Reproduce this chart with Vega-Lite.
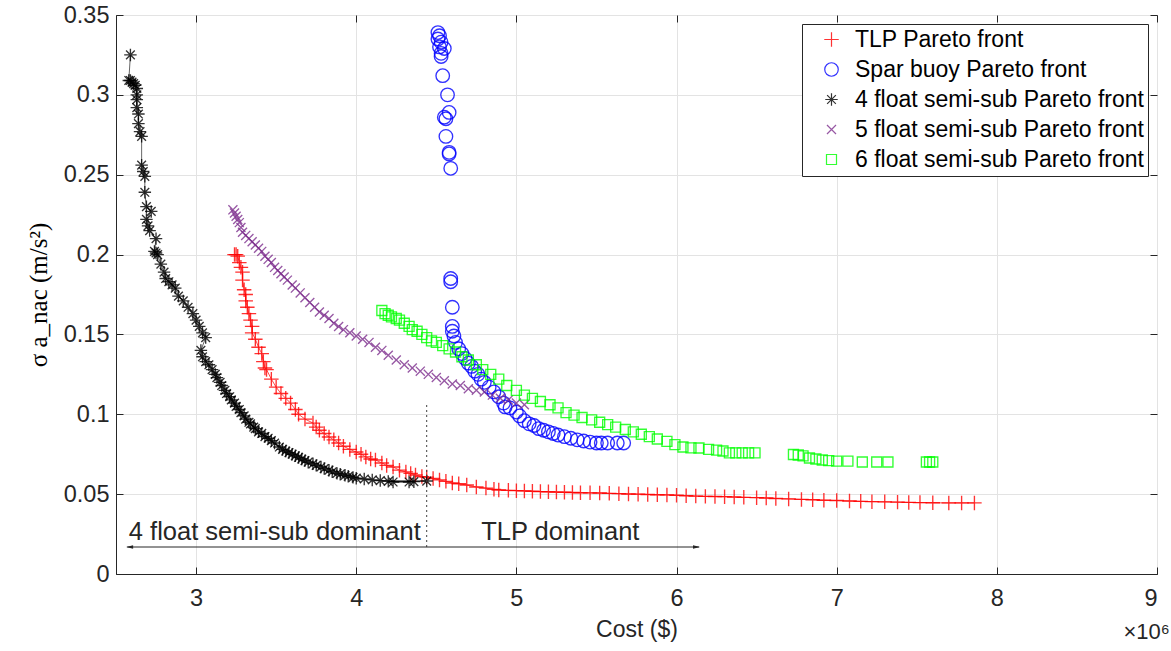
{
  "$schema": "https://vega.github.io/schema/vega-lite/v6.json",
  "width": 1041,
  "height": 559,
  "autosize": {"type": "none"},
  "padding": {"left": 116, "top": 15, "right": 14, "bottom": 77},
  "background": "white",
  "config": {
    "view": {"stroke": "#262626", "strokeWidth": 1},
    "font": "Liberation Sans",
    "legend": {
      "title": null, "orient": "top-right", "offset": 9, "strokeColor": "#262626", "fillColor": "white",
      "padding": 4, "labelFontSize": 23, "labelFont": "Liberation Sans", "labelColor": "black", "labelLimit": 500,
      "symbolSize": 80, "rowPadding": 6, "symbolStrokeWidth": 1.2, "symbolOffset": 14, "labelOffset": 12, "cornerRadius": 0
    }
  },
  "datasets": {
    "pts": [
      {"series": "TLP Pareto front", "cost": 3.24, "sigma": 0.200},
      {"series": "TLP Pareto front", "cost": 3.25, "sigma": 0.200},
      {"series": "TLP Pareto front", "cost": 3.26, "sigma": 0.199},
      {"series": "TLP Pareto front", "cost": 3.27, "sigma": 0.195},
      {"series": "TLP Pareto front", "cost": 3.28, "sigma": 0.192},
      {"series": "TLP Pareto front", "cost": 3.29, "sigma": 0.189},
      {"series": "TLP Pareto front", "cost": 3.29, "sigma": 0.184},
      {"series": "TLP Pareto front", "cost": 3.30, "sigma": 0.178},
      {"series": "TLP Pareto front", "cost": 3.31, "sigma": 0.175},
      {"series": "TLP Pareto front", "cost": 3.31, "sigma": 0.171},
      {"series": "TLP Pareto front", "cost": 3.32, "sigma": 0.167},
      {"series": "TLP Pareto front", "cost": 3.33, "sigma": 0.163},
      {"series": "TLP Pareto front", "cost": 3.34, "sigma": 0.159},
      {"series": "TLP Pareto front", "cost": 3.35, "sigma": 0.155},
      {"series": "TLP Pareto front", "cost": 3.35, "sigma": 0.151},
      {"series": "TLP Pareto front", "cost": 3.37, "sigma": 0.147},
      {"series": "TLP Pareto front", "cost": 3.39, "sigma": 0.142},
      {"series": "TLP Pareto front", "cost": 3.41, "sigma": 0.138},
      {"series": "TLP Pareto front", "cost": 3.42, "sigma": 0.133},
      {"series": "TLP Pareto front", "cost": 3.43, "sigma": 0.129},
      {"series": "TLP Pareto front", "cost": 3.44, "sigma": 0.128},
      {"series": "TLP Pareto front", "cost": 3.47, "sigma": 0.122},
      {"series": "TLP Pareto front", "cost": 3.50, "sigma": 0.117},
      {"series": "TLP Pareto front", "cost": 3.53, "sigma": 0.113},
      {"series": "TLP Pareto front", "cost": 3.56, "sigma": 0.110},
      {"series": "TLP Pareto front", "cost": 3.59, "sigma": 0.107},
      {"series": "TLP Pareto front", "cost": 3.62, "sigma": 0.103},
      {"series": "TLP Pareto front", "cost": 3.64, "sigma": 0.100},
      {"series": "TLP Pareto front", "cost": 3.68, "sigma": 0.097},
      {"series": "TLP Pareto front", "cost": 3.73, "sigma": 0.0945},
      {"series": "TLP Pareto front", "cost": 3.75, "sigma": 0.092},
      {"series": "TLP Pareto front", "cost": 3.77, "sigma": 0.090},
      {"series": "TLP Pareto front", "cost": 3.80, "sigma": 0.088},
      {"series": "TLP Pareto front", "cost": 3.83, "sigma": 0.0858},
      {"series": "TLP Pareto front", "cost": 3.86, "sigma": 0.084},
      {"series": "TLP Pareto front", "cost": 3.89, "sigma": 0.082},
      {"series": "TLP Pareto front", "cost": 3.92, "sigma": 0.080},
      {"series": "TLP Pareto front", "cost": 3.96, "sigma": 0.078},
      {"series": "TLP Pareto front", "cost": 4.00, "sigma": 0.0764},
      {"series": "TLP Pareto front", "cost": 4.03, "sigma": 0.075},
      {"series": "TLP Pareto front", "cost": 4.06, "sigma": 0.0733},
      {"series": "TLP Pareto front", "cost": 4.09, "sigma": 0.072},
      {"series": "TLP Pareto front", "cost": 4.12, "sigma": 0.0714},
      {"series": "TLP Pareto front", "cost": 4.16, "sigma": 0.0695},
      {"series": "TLP Pareto front", "cost": 4.19, "sigma": 0.068},
      {"series": "TLP Pareto front", "cost": 4.23, "sigma": 0.067},
      {"series": "TLP Pareto front", "cost": 4.27, "sigma": 0.065},
      {"series": "TLP Pareto front", "cost": 4.31, "sigma": 0.0639},
      {"series": "TLP Pareto front", "cost": 4.34, "sigma": 0.063},
      {"series": "TLP Pareto front", "cost": 4.37, "sigma": 0.062},
      {"series": "TLP Pareto front", "cost": 4.41, "sigma": 0.061},
      {"series": "TLP Pareto front", "cost": 4.44, "sigma": 0.0607},
      {"series": "TLP Pareto front", "cost": 4.48, "sigma": 0.0598},
      {"series": "TLP Pareto front", "cost": 4.52, "sigma": 0.0589},
      {"series": "TLP Pareto front", "cost": 4.56, "sigma": 0.058},
      {"series": "TLP Pareto front", "cost": 4.60, "sigma": 0.057},
      {"series": "TLP Pareto front", "cost": 4.64, "sigma": 0.0565},
      {"series": "TLP Pareto front", "cost": 4.69, "sigma": 0.0557},
      {"series": "TLP Pareto front", "cost": 4.75, "sigma": 0.0545},
      {"series": "TLP Pareto front", "cost": 4.81, "sigma": 0.0538},
      {"series": "TLP Pareto front", "cost": 4.86, "sigma": 0.053},
      {"series": "TLP Pareto front", "cost": 4.89, "sigma": 0.0526},
      {"series": "TLP Pareto front", "cost": 4.95, "sigma": 0.0524},
      {"series": "TLP Pareto front", "cost": 5.00, "sigma": 0.0522},
      {"series": "TLP Pareto front", "cost": 5.05, "sigma": 0.052},
      {"series": "TLP Pareto front", "cost": 5.10, "sigma": 0.0518},
      {"series": "TLP Pareto front", "cost": 5.15, "sigma": 0.0516},
      {"series": "TLP Pareto front", "cost": 5.20, "sigma": 0.0515},
      {"series": "TLP Pareto front", "cost": 5.25, "sigma": 0.0513},
      {"series": "TLP Pareto front", "cost": 5.30, "sigma": 0.0512},
      {"series": "TLP Pareto front", "cost": 5.35, "sigma": 0.051},
      {"series": "TLP Pareto front", "cost": 5.40, "sigma": 0.0509},
      {"series": "TLP Pareto front", "cost": 5.46, "sigma": 0.0508},
      {"series": "TLP Pareto front", "cost": 5.52, "sigma": 0.0507},
      {"series": "TLP Pareto front", "cost": 5.58, "sigma": 0.0505},
      {"series": "TLP Pareto front", "cost": 5.64, "sigma": 0.0503},
      {"series": "TLP Pareto front", "cost": 5.70, "sigma": 0.0501},
      {"series": "TLP Pareto front", "cost": 5.76, "sigma": 0.050},
      {"series": "TLP Pareto front", "cost": 5.82, "sigma": 0.0498},
      {"series": "TLP Pareto front", "cost": 5.88, "sigma": 0.0496},
      {"series": "TLP Pareto front", "cost": 5.94, "sigma": 0.0495},
      {"series": "TLP Pareto front", "cost": 6.00, "sigma": 0.0493},
      {"series": "TLP Pareto front", "cost": 6.06, "sigma": 0.049},
      {"series": "TLP Pareto front", "cost": 6.12, "sigma": 0.0488},
      {"series": "TLP Pareto front", "cost": 6.18, "sigma": 0.0486},
      {"series": "TLP Pareto front", "cost": 6.24, "sigma": 0.0485},
      {"series": "TLP Pareto front", "cost": 6.30, "sigma": 0.0484},
      {"series": "TLP Pareto front", "cost": 6.36, "sigma": 0.0482},
      {"series": "TLP Pareto front", "cost": 6.42, "sigma": 0.048},
      {"series": "TLP Pareto front", "cost": 6.50, "sigma": 0.0478},
      {"series": "TLP Pareto front", "cost": 6.56, "sigma": 0.0476},
      {"series": "TLP Pareto front", "cost": 6.62, "sigma": 0.0473},
      {"series": "TLP Pareto front", "cost": 6.70, "sigma": 0.047},
      {"series": "TLP Pareto front", "cost": 6.78, "sigma": 0.0467},
      {"series": "TLP Pareto front", "cost": 6.85, "sigma": 0.0465},
      {"series": "TLP Pareto front", "cost": 6.92, "sigma": 0.0462},
      {"series": "TLP Pareto front", "cost": 7.00, "sigma": 0.046},
      {"series": "TLP Pareto front", "cost": 7.08, "sigma": 0.0457},
      {"series": "TLP Pareto front", "cost": 7.15, "sigma": 0.0455},
      {"series": "TLP Pareto front", "cost": 7.22, "sigma": 0.0453},
      {"series": "TLP Pareto front", "cost": 7.30, "sigma": 0.0452},
      {"series": "TLP Pareto front", "cost": 7.38, "sigma": 0.045},
      {"series": "TLP Pareto front", "cost": 7.45, "sigma": 0.0448},
      {"series": "TLP Pareto front", "cost": 7.52, "sigma": 0.0447},
      {"series": "TLP Pareto front", "cost": 7.60, "sigma": 0.0446},
      {"series": "TLP Pareto front", "cost": 7.70, "sigma": 0.0445},
      {"series": "TLP Pareto front", "cost": 7.78, "sigma": 0.0445},
      {"series": "TLP Pareto front", "cost": 7.86, "sigma": 0.0445},

      {"series": "Spar buoy Pareto front", "cost": 4.51, "sigma": 0.339},
      {"series": "Spar buoy Pareto front", "cost": 4.52, "sigma": 0.337},
      {"series": "Spar buoy Pareto front", "cost": 4.51, "sigma": 0.335},
      {"series": "Spar buoy Pareto front", "cost": 4.53, "sigma": 0.333},
      {"series": "Spar buoy Pareto front", "cost": 4.52, "sigma": 0.330},
      {"series": "Spar buoy Pareto front", "cost": 4.55, "sigma": 0.329},
      {"series": "Spar buoy Pareto front", "cost": 4.53, "sigma": 0.326},
      {"series": "Spar buoy Pareto front", "cost": 4.53, "sigma": 0.324},
      {"series": "Spar buoy Pareto front", "cost": 4.54, "sigma": 0.312},
      {"series": "Spar buoy Pareto front", "cost": 4.57, "sigma": 0.300},
      {"series": "Spar buoy Pareto front", "cost": 4.58, "sigma": 0.289},
      {"series": "Spar buoy Pareto front", "cost": 4.55, "sigma": 0.286},
      {"series": "Spar buoy Pareto front", "cost": 4.56, "sigma": 0.285},
      {"series": "Spar buoy Pareto front", "cost": 4.56, "sigma": 0.274},
      {"series": "Spar buoy Pareto front", "cost": 4.58, "sigma": 0.264},
      {"series": "Spar buoy Pareto front", "cost": 4.58, "sigma": 0.263},
      {"series": "Spar buoy Pareto front", "cost": 4.59, "sigma": 0.254},
      {"series": "Spar buoy Pareto front", "cost": 4.59, "sigma": 0.185},
      {"series": "Spar buoy Pareto front", "cost": 4.59, "sigma": 0.183},
      {"series": "Spar buoy Pareto front", "cost": 4.60, "sigma": 0.167},
      {"series": "Spar buoy Pareto front", "cost": 4.60, "sigma": 0.155},
      {"series": "Spar buoy Pareto front", "cost": 4.60, "sigma": 0.152},
      {"series": "Spar buoy Pareto front", "cost": 4.61, "sigma": 0.149},
      {"series": "Spar buoy Pareto front", "cost": 4.62, "sigma": 0.145},
      {"series": "Spar buoy Pareto front", "cost": 4.64, "sigma": 0.141},
      {"series": "Spar buoy Pareto front", "cost": 4.66, "sigma": 0.138},
      {"series": "Spar buoy Pareto front", "cost": 4.68, "sigma": 0.135},
      {"series": "Spar buoy Pareto front", "cost": 4.70, "sigma": 0.132},
      {"series": "Spar buoy Pareto front", "cost": 4.72, "sigma": 0.130},
      {"series": "Spar buoy Pareto front", "cost": 4.74, "sigma": 0.127},
      {"series": "Spar buoy Pareto front", "cost": 4.76, "sigma": 0.125},
      {"series": "Spar buoy Pareto front", "cost": 4.78, "sigma": 0.122},
      {"series": "Spar buoy Pareto front", "cost": 4.80, "sigma": 0.120},
      {"series": "Spar buoy Pareto front", "cost": 4.83, "sigma": 0.117},
      {"series": "Spar buoy Pareto front", "cost": 4.86, "sigma": 0.114},
      {"series": "Spar buoy Pareto front", "cost": 4.89, "sigma": 0.111},
      {"series": "Spar buoy Pareto front", "cost": 4.92, "sigma": 0.107},
      {"series": "Spar buoy Pareto front", "cost": 4.93, "sigma": 0.1046},
      {"series": "Spar buoy Pareto front", "cost": 4.96, "sigma": 0.104},
      {"series": "Spar buoy Pareto front", "cost": 5.00, "sigma": 0.1014},
      {"series": "Spar buoy Pareto front", "cost": 5.02, "sigma": 0.099},
      {"series": "Spar buoy Pareto front", "cost": 5.05, "sigma": 0.096},
      {"series": "Spar buoy Pareto front", "cost": 5.08, "sigma": 0.094},
      {"series": "Spar buoy Pareto front", "cost": 5.11, "sigma": 0.093},
      {"series": "Spar buoy Pareto front", "cost": 5.14, "sigma": 0.091},
      {"series": "Spar buoy Pareto front", "cost": 5.17, "sigma": 0.090},
      {"series": "Spar buoy Pareto front", "cost": 5.20, "sigma": 0.089},
      {"series": "Spar buoy Pareto front", "cost": 5.23, "sigma": 0.088},
      {"series": "Spar buoy Pareto front", "cost": 5.26, "sigma": 0.087},
      {"series": "Spar buoy Pareto front", "cost": 5.30, "sigma": 0.086},
      {"series": "Spar buoy Pareto front", "cost": 5.34, "sigma": 0.085},
      {"series": "Spar buoy Pareto front", "cost": 5.38, "sigma": 0.084},
      {"series": "Spar buoy Pareto front", "cost": 5.42, "sigma": 0.0833},
      {"series": "Spar buoy Pareto front", "cost": 5.46, "sigma": 0.0826},
      {"series": "Spar buoy Pareto front", "cost": 5.50, "sigma": 0.082},
      {"series": "Spar buoy Pareto front", "cost": 5.53, "sigma": 0.082},
      {"series": "Spar buoy Pareto front", "cost": 5.57, "sigma": 0.082},
      {"series": "Spar buoy Pareto front", "cost": 5.63, "sigma": 0.082},
      {"series": "Spar buoy Pareto front", "cost": 5.67, "sigma": 0.082},

      {"series": "4 float semi-sub Pareto front", "cost": 2.59, "sigma": 0.325},
      {"series": "4 float semi-sub Pareto front", "cost": 2.58, "sigma": 0.309},
      {"series": "4 float semi-sub Pareto front", "cost": 2.59, "sigma": 0.309},
      {"series": "4 float semi-sub Pareto front", "cost": 2.60, "sigma": 0.308},
      {"series": "4 float semi-sub Pareto front", "cost": 2.61, "sigma": 0.307},
      {"series": "4 float semi-sub Pareto front", "cost": 2.62, "sigma": 0.306},
      {"series": "4 float semi-sub Pareto front", "cost": 2.63, "sigma": 0.304},
      {"series": "4 float semi-sub Pareto front", "cost": 2.63, "sigma": 0.300},
      {"series": "4 float semi-sub Pareto front", "cost": 2.63, "sigma": 0.297},
      {"series": "4 float semi-sub Pareto front", "cost": 2.63, "sigma": 0.292},
      {"series": "4 float semi-sub Pareto front", "cost": 2.64, "sigma": 0.288},
      {"series": "4 float semi-sub Pareto front", "cost": 2.64, "sigma": 0.282},
      {"series": "4 float semi-sub Pareto front", "cost": 2.65, "sigma": 0.277},
      {"series": "4 float semi-sub Pareto front", "cost": 2.66, "sigma": 0.274},
      {"series": "4 float semi-sub Pareto front", "cost": 2.66, "sigma": 0.256},
      {"series": "4 float semi-sub Pareto front", "cost": 2.67, "sigma": 0.252},
      {"series": "4 float semi-sub Pareto front", "cost": 2.68, "sigma": 0.249},
      {"series": "4 float semi-sub Pareto front", "cost": 2.68, "sigma": 0.239},
      {"series": "4 float semi-sub Pareto front", "cost": 2.69, "sigma": 0.230},
      {"series": "4 float semi-sub Pareto front", "cost": 2.72, "sigma": 0.227},
      {"series": "4 float semi-sub Pareto front", "cost": 2.69, "sigma": 0.222},
      {"series": "4 float semi-sub Pareto front", "cost": 2.70, "sigma": 0.218},
      {"series": "4 float semi-sub Pareto front", "cost": 2.71, "sigma": 0.215},
      {"series": "4 float semi-sub Pareto front", "cost": 2.75, "sigma": 0.210},
      {"series": "4 float semi-sub Pareto front", "cost": 2.74, "sigma": 0.202},
      {"series": "4 float semi-sub Pareto front", "cost": 2.75, "sigma": 0.201},
      {"series": "4 float semi-sub Pareto front", "cost": 2.76, "sigma": 0.200},
      {"series": "4 float semi-sub Pareto front", "cost": 2.78, "sigma": 0.194},
      {"series": "4 float semi-sub Pareto front", "cost": 2.80, "sigma": 0.189},
      {"series": "4 float semi-sub Pareto front", "cost": 2.81, "sigma": 0.185},
      {"series": "4 float semi-sub Pareto front", "cost": 2.83, "sigma": 0.183},
      {"series": "4 float semi-sub Pareto front", "cost": 2.85, "sigma": 0.181},
      {"series": "4 float semi-sub Pareto front", "cost": 2.87, "sigma": 0.179},
      {"series": "4 float semi-sub Pareto front", "cost": 2.89, "sigma": 0.174},
      {"series": "4 float semi-sub Pareto front", "cost": 2.92, "sigma": 0.171},
      {"series": "4 float semi-sub Pareto front", "cost": 2.95, "sigma": 0.167},
      {"series": "4 float semi-sub Pareto front", "cost": 2.98, "sigma": 0.163},
      {"series": "4 float semi-sub Pareto front", "cost": 3.00, "sigma": 0.159},
      {"series": "4 float semi-sub Pareto front", "cost": 3.02, "sigma": 0.155},
      {"series": "4 float semi-sub Pareto front", "cost": 3.04, "sigma": 0.151},
      {"series": "4 float semi-sub Pareto front", "cost": 3.06, "sigma": 0.148},
      {"series": "4 float semi-sub Pareto front", "cost": 3.03, "sigma": 0.140},
      {"series": "4 float semi-sub Pareto front", "cost": 3.04, "sigma": 0.136},
      {"series": "4 float semi-sub Pareto front", "cost": 3.06, "sigma": 0.133},
      {"series": "4 float semi-sub Pareto front", "cost": 3.08, "sigma": 0.131},
      {"series": "4 float semi-sub Pareto front", "cost": 3.10, "sigma": 0.128},
      {"series": "4 float semi-sub Pareto front", "cost": 3.12, "sigma": 0.125},
      {"series": "4 float semi-sub Pareto front", "cost": 3.13, "sigma": 0.123},
      {"series": "4 float semi-sub Pareto front", "cost": 3.15, "sigma": 0.120},
      {"series": "4 float semi-sub Pareto front", "cost": 3.16, "sigma": 0.118},
      {"series": "4 float semi-sub Pareto front", "cost": 3.18, "sigma": 0.115},
      {"series": "4 float semi-sub Pareto front", "cost": 3.19, "sigma": 0.113},
      {"series": "4 float semi-sub Pareto front", "cost": 3.21, "sigma": 0.111},
      {"series": "4 float semi-sub Pareto front", "cost": 3.22, "sigma": 0.109},
      {"series": "4 float semi-sub Pareto front", "cost": 3.24, "sigma": 0.107},
      {"series": "4 float semi-sub Pareto front", "cost": 3.25, "sigma": 0.105},
      {"series": "4 float semi-sub Pareto front", "cost": 3.27, "sigma": 0.103},
      {"series": "4 float semi-sub Pareto front", "cost": 3.28, "sigma": 0.101},
      {"series": "4 float semi-sub Pareto front", "cost": 3.30, "sigma": 0.099},
      {"series": "4 float semi-sub Pareto front", "cost": 3.31, "sigma": 0.097},
      {"series": "4 float semi-sub Pareto front", "cost": 3.33, "sigma": 0.095},
      {"series": "4 float semi-sub Pareto front", "cost": 3.34, "sigma": 0.094},
      {"series": "4 float semi-sub Pareto front", "cost": 3.36, "sigma": 0.092},
      {"series": "4 float semi-sub Pareto front", "cost": 3.37, "sigma": 0.091},
      {"series": "4 float semi-sub Pareto front", "cost": 3.39, "sigma": 0.089},
      {"series": "4 float semi-sub Pareto front", "cost": 3.41, "sigma": 0.088},
      {"series": "4 float semi-sub Pareto front", "cost": 3.43, "sigma": 0.086},
      {"series": "4 float semi-sub Pareto front", "cost": 3.45, "sigma": 0.085},
      {"series": "4 float semi-sub Pareto front", "cost": 3.47, "sigma": 0.0835},
      {"series": "4 float semi-sub Pareto front", "cost": 3.49, "sigma": 0.082},
      {"series": "4 float semi-sub Pareto front", "cost": 3.52, "sigma": 0.0795},
      {"series": "4 float semi-sub Pareto front", "cost": 3.54, "sigma": 0.078},
      {"series": "4 float semi-sub Pareto front", "cost": 3.56, "sigma": 0.077},
      {"series": "4 float semi-sub Pareto front", "cost": 3.58, "sigma": 0.076},
      {"series": "4 float semi-sub Pareto front", "cost": 3.60, "sigma": 0.075},
      {"series": "4 float semi-sub Pareto front", "cost": 3.62, "sigma": 0.074},
      {"series": "4 float semi-sub Pareto front", "cost": 3.64, "sigma": 0.073},
      {"series": "4 float semi-sub Pareto front", "cost": 3.66, "sigma": 0.072},
      {"series": "4 float semi-sub Pareto front", "cost": 3.68, "sigma": 0.071},
      {"series": "4 float semi-sub Pareto front", "cost": 3.70, "sigma": 0.070},
      {"series": "4 float semi-sub Pareto front", "cost": 3.73, "sigma": 0.069},
      {"series": "4 float semi-sub Pareto front", "cost": 3.75, "sigma": 0.068},
      {"series": "4 float semi-sub Pareto front", "cost": 3.78, "sigma": 0.067},
      {"series": "4 float semi-sub Pareto front", "cost": 3.80, "sigma": 0.066},
      {"series": "4 float semi-sub Pareto front", "cost": 3.83, "sigma": 0.065},
      {"series": "4 float semi-sub Pareto front", "cost": 3.85, "sigma": 0.064},
      {"series": "4 float semi-sub Pareto front", "cost": 3.88, "sigma": 0.063},
      {"series": "4 float semi-sub Pareto front", "cost": 3.90, "sigma": 0.0625},
      {"series": "4 float semi-sub Pareto front", "cost": 3.93, "sigma": 0.0618},
      {"series": "4 float semi-sub Pareto front", "cost": 3.95, "sigma": 0.0612},
      {"series": "4 float semi-sub Pareto front", "cost": 3.98, "sigma": 0.0605},
      {"series": "4 float semi-sub Pareto front", "cost": 4.00, "sigma": 0.060},
      {"series": "4 float semi-sub Pareto front", "cost": 4.05, "sigma": 0.0595},
      {"series": "4 float semi-sub Pareto front", "cost": 4.10, "sigma": 0.0589},
      {"series": "4 float semi-sub Pareto front", "cost": 4.15, "sigma": 0.0585},
      {"series": "4 float semi-sub Pareto front", "cost": 4.20, "sigma": 0.058},
      {"series": "4 float semi-sub Pareto front", "cost": 4.23, "sigma": 0.0576},
      {"series": "4 float semi-sub Pareto front", "cost": 4.33, "sigma": 0.0576},
      {"series": "4 float semi-sub Pareto front", "cost": 4.36, "sigma": 0.0578},
      {"series": "4 float semi-sub Pareto front", "cost": 4.44, "sigma": 0.0582},

      {"series": "5 float semi-sub Pareto front", "cost": 3.23, "sigma": 0.228},
      {"series": "5 float semi-sub Pareto front", "cost": 3.24, "sigma": 0.226},
      {"series": "5 float semi-sub Pareto front", "cost": 3.25, "sigma": 0.224},
      {"series": "5 float semi-sub Pareto front", "cost": 3.26, "sigma": 0.222},
      {"series": "5 float semi-sub Pareto front", "cost": 3.27, "sigma": 0.220},
      {"series": "5 float semi-sub Pareto front", "cost": 3.28, "sigma": 0.217},
      {"series": "5 float semi-sub Pareto front", "cost": 3.29, "sigma": 0.214},
      {"series": "5 float semi-sub Pareto front", "cost": 3.31, "sigma": 0.212},
      {"series": "5 float semi-sub Pareto front", "cost": 3.33, "sigma": 0.210},
      {"series": "5 float semi-sub Pareto front", "cost": 3.35, "sigma": 0.208},
      {"series": "5 float semi-sub Pareto front", "cost": 3.37, "sigma": 0.206},
      {"series": "5 float semi-sub Pareto front", "cost": 3.39, "sigma": 0.204},
      {"series": "5 float semi-sub Pareto front", "cost": 3.41, "sigma": 0.202},
      {"series": "5 float semi-sub Pareto front", "cost": 3.43, "sigma": 0.199},
      {"series": "5 float semi-sub Pareto front", "cost": 3.45, "sigma": 0.197},
      {"series": "5 float semi-sub Pareto front", "cost": 3.47, "sigma": 0.195},
      {"series": "5 float semi-sub Pareto front", "cost": 3.49, "sigma": 0.192},
      {"series": "5 float semi-sub Pareto front", "cost": 3.51, "sigma": 0.190},
      {"series": "5 float semi-sub Pareto front", "cost": 3.53, "sigma": 0.188},
      {"series": "5 float semi-sub Pareto front", "cost": 3.55, "sigma": 0.186},
      {"series": "5 float semi-sub Pareto front", "cost": 3.57, "sigma": 0.184},
      {"series": "5 float semi-sub Pareto front", "cost": 3.60, "sigma": 0.181},
      {"series": "5 float semi-sub Pareto front", "cost": 3.62, "sigma": 0.179},
      {"series": "5 float semi-sub Pareto front", "cost": 3.65, "sigma": 0.176},
      {"series": "5 float semi-sub Pareto front", "cost": 3.68, "sigma": 0.173},
      {"series": "5 float semi-sub Pareto front", "cost": 3.71, "sigma": 0.170},
      {"series": "5 float semi-sub Pareto front", "cost": 3.74, "sigma": 0.167},
      {"series": "5 float semi-sub Pareto front", "cost": 3.77, "sigma": 0.164},
      {"series": "5 float semi-sub Pareto front", "cost": 3.80, "sigma": 0.162},
      {"series": "5 float semi-sub Pareto front", "cost": 3.83, "sigma": 0.160},
      {"series": "5 float semi-sub Pareto front", "cost": 3.86, "sigma": 0.157},
      {"series": "5 float semi-sub Pareto front", "cost": 3.89, "sigma": 0.155},
      {"series": "5 float semi-sub Pareto front", "cost": 3.92, "sigma": 0.153},
      {"series": "5 float semi-sub Pareto front", "cost": 3.96, "sigma": 0.151},
      {"series": "5 float semi-sub Pareto front", "cost": 4.00, "sigma": 0.149},
      {"series": "5 float semi-sub Pareto front", "cost": 4.04, "sigma": 0.147},
      {"series": "5 float semi-sub Pareto front", "cost": 4.08, "sigma": 0.145},
      {"series": "5 float semi-sub Pareto front", "cost": 4.12, "sigma": 0.142},
      {"series": "5 float semi-sub Pareto front", "cost": 4.16, "sigma": 0.140},
      {"series": "5 float semi-sub Pareto front", "cost": 4.20, "sigma": 0.137},
      {"series": "5 float semi-sub Pareto front", "cost": 4.25, "sigma": 0.134},
      {"series": "5 float semi-sub Pareto front", "cost": 4.30, "sigma": 0.131},
      {"series": "5 float semi-sub Pareto front", "cost": 4.35, "sigma": 0.129},
      {"series": "5 float semi-sub Pareto front", "cost": 4.40, "sigma": 0.127},
      {"series": "5 float semi-sub Pareto front", "cost": 4.45, "sigma": 0.125},
      {"series": "5 float semi-sub Pareto front", "cost": 4.50, "sigma": 0.123},
      {"series": "5 float semi-sub Pareto front", "cost": 4.55, "sigma": 0.121},
      {"series": "5 float semi-sub Pareto front", "cost": 4.60, "sigma": 0.119},
      {"series": "5 float semi-sub Pareto front", "cost": 4.65, "sigma": 0.118},
      {"series": "5 float semi-sub Pareto front", "cost": 4.70, "sigma": 0.116},
      {"series": "5 float semi-sub Pareto front", "cost": 4.75, "sigma": 0.115},
      {"series": "5 float semi-sub Pareto front", "cost": 4.80, "sigma": 0.114},
      {"series": "5 float semi-sub Pareto front", "cost": 4.85, "sigma": 0.112},
      {"series": "5 float semi-sub Pareto front", "cost": 4.90, "sigma": 0.110},
      {"series": "5 float semi-sub Pareto front", "cost": 4.95, "sigma": 0.109},
      {"series": "5 float semi-sub Pareto front", "cost": 5.00, "sigma": 0.107},
      {"series": "5 float semi-sub Pareto front", "cost": 5.05, "sigma": 0.106},

      {"series": "6 float semi-sub Pareto front", "cost": 4.16, "sigma": 0.165},
      {"series": "6 float semi-sub Pareto front", "cost": 4.18, "sigma": 0.163},
      {"series": "6 float semi-sub Pareto front", "cost": 4.20, "sigma": 0.162},
      {"series": "6 float semi-sub Pareto front", "cost": 4.22, "sigma": 0.161},
      {"series": "6 float semi-sub Pareto front", "cost": 4.25, "sigma": 0.160},
      {"series": "6 float semi-sub Pareto front", "cost": 4.27, "sigma": 0.159},
      {"series": "6 float semi-sub Pareto front", "cost": 4.30, "sigma": 0.157},
      {"series": "6 float semi-sub Pareto front", "cost": 4.33, "sigma": 0.155},
      {"series": "6 float semi-sub Pareto front", "cost": 4.35, "sigma": 0.153},
      {"series": "6 float semi-sub Pareto front", "cost": 4.38, "sigma": 0.152},
      {"series": "6 float semi-sub Pareto front", "cost": 4.41, "sigma": 0.150},
      {"series": "6 float semi-sub Pareto front", "cost": 4.44, "sigma": 0.148},
      {"series": "6 float semi-sub Pareto front", "cost": 4.47, "sigma": 0.146},
      {"series": "6 float semi-sub Pareto front", "cost": 4.50, "sigma": 0.145},
      {"series": "6 float semi-sub Pareto front", "cost": 4.54, "sigma": 0.143},
      {"series": "6 float semi-sub Pareto front", "cost": 4.58, "sigma": 0.141},
      {"series": "6 float semi-sub Pareto front", "cost": 4.62, "sigma": 0.139},
      {"series": "6 float semi-sub Pareto front", "cost": 4.66, "sigma": 0.136},
      {"series": "6 float semi-sub Pareto front", "cost": 4.70, "sigma": 0.134},
      {"series": "6 float semi-sub Pareto front", "cost": 4.75, "sigma": 0.131},
      {"series": "6 float semi-sub Pareto front", "cost": 4.79, "sigma": 0.128},
      {"series": "6 float semi-sub Pareto front", "cost": 4.84, "sigma": 0.125},
      {"series": "6 float semi-sub Pareto front", "cost": 4.89, "sigma": 0.122},
      {"series": "6 float semi-sub Pareto front", "cost": 4.94, "sigma": 0.118},
      {"series": "6 float semi-sub Pareto front", "cost": 5.00, "sigma": 0.115},
      {"series": "6 float semi-sub Pareto front", "cost": 5.05, "sigma": 0.112},
      {"series": "6 float semi-sub Pareto front", "cost": 5.10, "sigma": 0.110},
      {"series": "6 float semi-sub Pareto front", "cost": 5.15, "sigma": 0.108},
      {"series": "6 float semi-sub Pareto front", "cost": 5.21, "sigma": 0.106},
      {"series": "6 float semi-sub Pareto front", "cost": 5.26, "sigma": 0.104},
      {"series": "6 float semi-sub Pareto front", "cost": 5.31, "sigma": 0.101},
      {"series": "6 float semi-sub Pareto front", "cost": 5.36, "sigma": 0.0995},
      {"series": "6 float semi-sub Pareto front", "cost": 5.41, "sigma": 0.098},
      {"series": "6 float semi-sub Pareto front", "cost": 5.47, "sigma": 0.0965},
      {"series": "6 float semi-sub Pareto front", "cost": 5.52, "sigma": 0.095},
      {"series": "6 float semi-sub Pareto front", "cost": 5.57, "sigma": 0.0935},
      {"series": "6 float semi-sub Pareto front", "cost": 5.62, "sigma": 0.092},
      {"series": "6 float semi-sub Pareto front", "cost": 5.68, "sigma": 0.0905},
      {"series": "6 float semi-sub Pareto front", "cost": 5.73, "sigma": 0.089},
      {"series": "6 float semi-sub Pareto front", "cost": 5.78, "sigma": 0.0875},
      {"series": "6 float semi-sub Pareto front", "cost": 5.83, "sigma": 0.086},
      {"series": "6 float semi-sub Pareto front", "cost": 5.88, "sigma": 0.0845},
      {"series": "6 float semi-sub Pareto front", "cost": 5.94, "sigma": 0.083},
      {"series": "6 float semi-sub Pareto front", "cost": 5.99, "sigma": 0.081},
      {"series": "6 float semi-sub Pareto front", "cost": 6.04, "sigma": 0.0795},
      {"series": "6 float semi-sub Pareto front", "cost": 6.09, "sigma": 0.079},
      {"series": "6 float semi-sub Pareto front", "cost": 6.14, "sigma": 0.0789},
      {"series": "6 float semi-sub Pareto front", "cost": 6.20, "sigma": 0.078},
      {"series": "6 float semi-sub Pareto front", "cost": 6.25, "sigma": 0.0776},
      {"series": "6 float semi-sub Pareto front", "cost": 6.29, "sigma": 0.077},
      {"series": "6 float semi-sub Pareto front", "cost": 6.33, "sigma": 0.0758},
      {"series": "6 float semi-sub Pareto front", "cost": 6.37, "sigma": 0.0758},
      {"series": "6 float semi-sub Pareto front", "cost": 6.41, "sigma": 0.0758},
      {"series": "6 float semi-sub Pareto front", "cost": 6.45, "sigma": 0.0758},
      {"series": "6 float semi-sub Pareto front", "cost": 6.49, "sigma": 0.0758},
      {"series": "6 float semi-sub Pareto front", "cost": 6.73, "sigma": 0.0748},
      {"series": "6 float semi-sub Pareto front", "cost": 6.76, "sigma": 0.0745},
      {"series": "6 float semi-sub Pareto front", "cost": 6.79, "sigma": 0.074},
      {"series": "6 float semi-sub Pareto front", "cost": 6.83, "sigma": 0.0726},
      {"series": "6 float semi-sub Pareto front", "cost": 6.87, "sigma": 0.072},
      {"series": "6 float semi-sub Pareto front", "cost": 6.91, "sigma": 0.0714},
      {"series": "6 float semi-sub Pareto front", "cost": 6.95, "sigma": 0.071},
      {"series": "6 float semi-sub Pareto front", "cost": 7.00, "sigma": 0.0707},
      {"series": "6 float semi-sub Pareto front", "cost": 7.07, "sigma": 0.0707},
      {"series": "6 float semi-sub Pareto front", "cost": 7.16, "sigma": 0.0701},
      {"series": "6 float semi-sub Pareto front", "cost": 7.25, "sigma": 0.0701},
      {"series": "6 float semi-sub Pareto front", "cost": 7.32, "sigma": 0.0701},
      {"series": "6 float semi-sub Pareto front", "cost": 7.56, "sigma": 0.0701},
      {"series": "6 float semi-sub Pareto front", "cost": 7.58, "sigma": 0.0701},
      {"series": "6 float semi-sub Pareto front", "cost": 7.60, "sigma": 0.0701}
    ],
    "divider": [{"cost": 4.44, "sigma": 0.0169, "sigma2": 0.1077}],
    "arrow": [{"cost": 2.57, "cost2": 6.14, "sigma": 0.0169}],
    "arrowLeft": [{"cost": 2.585, "sigma": 0.0169}],
    "arrowRight": [{"cost": 6.125, "sigma": 0.0169}],
    "labels": [
      {"cost": 2.58, "sigma": 0.0213, "text": "4 float semi-sub dominant"},
      {"cost": 4.78, "sigma": 0.0213, "text": "TLP dominant"}
    ],
    "exponent": [{"cost": 9.08, "sigma": -0.0365, "text": "×10⁶"}],
    "frame": [{"cost": 2.5, "sigma": 0}, {"cost": 9, "sigma": 0.35}]
  },
  "layer": [
    {
      "layer": [
        {
          "data": {"name": "pts"},
          "transform": [{"filter": "datum.series === 'TLP Pareto front'"}],
          "mark": {"type": "line", "color": "#ff0000", "strokeWidth": 1, "opacity": 0.7},
          "encoding": {
            "x": {"field": "cost", "type": "quantitative", "title": "Cost ($)",
              "scale": {"domain": [2.5, 9], "nice": false, "zero": false},
              "axis": {"values": [3, 4, 5, 6, 7, 8, 9], "format": "d", "grid": true, "gridColor": "#e3e3e3", "gridWidth": 1,
                "domainColor": "#262626", "tickColor": "#262626", "tickSize": -7, "labelFontSize": 23.5,
                "labelColor": "#262626", "labelPadding": 19, "labelFont": "Liberation Sans",
                "titleFontSize": 23, "titleFontWeight": "normal", "titleColor": "#262626", "titlePadding": 9, "titleFont": "Liberation Sans"}},
            "y": {"field": "sigma", "type": "quantitative", "title": "σ a_nac (m/s²)",
              "scale": {"domain": [0, 0.35], "nice": false},
              "axis": {"values": [0, 0.05, 0.1, 0.15, 0.2, 0.25, 0.3, 0.35], "format": ".2~f", "grid": true, "gridColor": "#e3e3e3",
                "domainColor": "#262626", "tickColor": "#262626", "tickSize": -7, "labelFontSize": 23.5,
                "labelColor": "#262626", "labelPadding": 14, "labelFont": "Liberation Sans",
                "titleFontSize": 25, "titleFontWeight": "normal", "titleColor": "black", "titlePadding": 12, "titleFont": "Liberation Serif"}}
          }
        },
        {
          "data": {"name": "pts"},
          "transform": [{"filter": "datum.series === '4 float semi-sub Pareto front'"}],
          "mark": {"type": "line", "color": "#000000", "strokeWidth": 1, "opacity": 0.6},
          "encoding": {
            "x": {"field": "cost", "type": "quantitative", "title": "Cost ($)"},
            "y": {"field": "sigma", "type": "quantitative", "title": "σ a_nac (m/s²)"},
            "order": {"field": "sigma", "sort": "descending"}
          }
        },
        {
          "data": {"name": "pts"},
          "mark": {"type": "point", "filled": false, "strokeWidth": 1.35, "opacity": 0.8},
          "encoding": {
            "x": {"field": "cost", "type": "quantitative", "title": "Cost ($)"},
            "y": {"field": "sigma", "type": "quantitative", "title": "σ a_nac (m/s²)"},
            "color": {"field": "series", "type": "nominal",
              "scale": {"domain": ["TLP Pareto front", "Spar buoy Pareto front", "4 float semi-sub Pareto front", "5 float semi-sub Pareto front", "6 float semi-sub Pareto front"],
                "range": ["#ff0000", "#0000ff", "#000000", "#7e2f8e", "#00ff00"]},
              "legend": {"title": null}},
            "shape": {"field": "series", "type": "nominal",
              "scale": {"domain": ["TLP Pareto front", "Spar buoy Pareto front", "4 float semi-sub Pareto front", "5 float semi-sub Pareto front", "6 float semi-sub Pareto front"],
                "range": ["M-1,0L1,0M0,-1L0,1", "circle", "M-1,0L1,0M0,-1L0,1M-0.7,-0.7L0.7,0.7M-0.7,0.7L0.7,-0.7", "M-0.8,-0.8L0.8,0.8M-0.8,0.8L0.8,-0.8", "square"]},
              "legend": {"title": null}},
            "size": {"field": "series", "type": "nominal",
              "scale": {"domain": ["TLP Pareto front", "Spar buoy Pareto front", "4 float semi-sub Pareto front", "5 float semi-sub Pareto front", "6 float semi-sub Pareto front"],
                "range": [210, 100, 200, 150, 90]},
              "legend": null}
          }
        },
        {
          "data": {"name": "divider"},
          "mark": {"type": "rule", "color": "#404040", "strokeWidth": 1, "strokeDash": [2, 3]},
          "encoding": {
            "x": {"field": "cost", "type": "quantitative", "title": "Cost ($)"},
            "y": {"field": "sigma", "type": "quantitative", "title": "σ a_nac (m/s²)"},
            "y2": {"field": "sigma2"}
          }
        },
        {
          "data": {"name": "arrow"},
          "mark": {"type": "rule", "color": "#262626", "strokeWidth": 1},
          "encoding": {
            "x": {"field": "cost", "type": "quantitative", "title": "Cost ($)"},
            "x2": {"field": "cost2"},
            "y": {"field": "sigma", "type": "quantitative", "title": "σ a_nac (m/s²)"}
          }
        },
        {
          "data": {"name": "arrowLeft"},
          "mark": {"type": "point", "filled": true, "color": "#262626", "opacity": 1, "size": 50, "shape": "M-1,0L1,-0.5L1,0.5Z"},
          "encoding": {
            "x": {"field": "cost", "type": "quantitative", "title": "Cost ($)"},
            "y": {"field": "sigma", "type": "quantitative", "title": "σ a_nac (m/s²)"}
          }
        },
        {
          "data": {"name": "arrowRight"},
          "mark": {"type": "point", "filled": true, "color": "#262626", "opacity": 1, "size": 50, "shape": "M1,0L-1,-0.5L-1,0.5Z"},
          "encoding": {
            "x": {"field": "cost", "type": "quantitative", "title": "Cost ($)"},
            "y": {"field": "sigma", "type": "quantitative", "title": "σ a_nac (m/s²)"}
          }
        },
        {
          "data": {"name": "labels"},
          "mark": {"type": "text", "align": "left", "baseline": "alphabetic", "fontSize": 25.5, "font": "Liberation Sans", "color": "#262626"},
          "encoding": {
            "x": {"field": "cost", "type": "quantitative", "title": "Cost ($)"},
            "y": {"field": "sigma", "type": "quantitative", "title": "σ a_nac (m/s²)"},
            "text": {"field": "text"}
          }
        },
        {
          "data": {"name": "exponent"},
          "mark": {"type": "text", "align": "right", "baseline": "middle", "fontSize": 22, "font": "Liberation Sans", "color": "#262626"},
          "encoding": {
            "x": {"field": "cost", "type": "quantitative", "title": "Cost ($)"},
            "y": {"field": "sigma", "type": "quantitative", "title": "σ a_nac (m/s²)"},
            "text": {"field": "text"}
          }
        }
      ]
    },
    {
      "data": {"name": "frame"},
      "mark": {"type": "point", "opacity": 0},
      "encoding": {
        "x": {"field": "cost", "type": "quantitative", "title": null,
          "scale": {"domain": [2.5, 9], "nice": false, "zero": false},
          "axis": {"orient": "top", "values": [3, 4, 5, 6, 7, 8, 9], "labels": false, "grid": false, "domain": false, "tickColor": "#262626", "tickSize": -7, "title": null}},
        "y": {"field": "sigma", "type": "quantitative", "title": null,
          "scale": {"domain": [0, 0.35], "nice": false},
          "axis": {"orient": "right", "values": [0, 0.05, 0.1, 0.15, 0.2, 0.25, 0.3, 0.35], "labels": false, "grid": false, "domain": false, "tickColor": "#262626", "tickSize": -7, "title": null}}
      }
    }
  ],
  "resolve": {"axis": {"x": "independent", "y": "independent"}}
}
